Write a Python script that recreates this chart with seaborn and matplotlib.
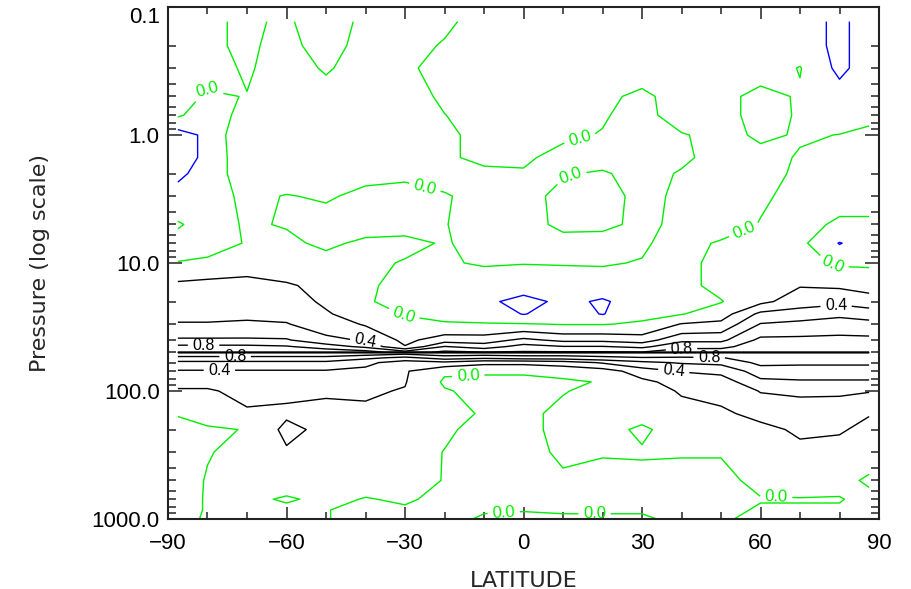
import numpy as np
import matplotlib
matplotlib.use("Agg")
import matplotlib.pyplot as plt
from matplotlib import font_manager
from matplotlib.ticker import MultipleLocator, LogLocator, NullFormatter
import seaborn as sns

# ---------------- data ----------------
latitudes = [-87.5, -80, -70, -60, -50, -40, -30, -20, -10, 0, 10, 20, 30, 40, 50, 60, 70, 80, 87.5]

upper_pressures = [0.13, 0.2, 0.3, 0.5, 0.7, 1, 1.5, 2, 3, 5, 7, 10]
# one row per upper pressure level, across latitudes
upper_rows = [
    [0.1, 0.025, -0.025, 0.025, -0.1, 0.045, 0.1, 0.05, -0.1, -0.1, -0.1, -0.1, -0.1, -0.1, -0.1, -0.1, -0.1, -0.25, -0.1],
    [0.1, 0.05, -0.05, 0.1, -0.15, 0.135, 0.1, -0.025, -0.1, -0.1, -0.1, -0.1, -0.1, -0.1, -0.1, -0.1, -0.1, -0.25, -0.1],
    [0.1, 0.075, -0.025, 0.1, -0.025, 0.1, 0.05, -0.1, -0.1, -0.1, -0.1, -0.1, -0.1, -0.1, -0.1, -0.1, 0.01, -0.25, -0.1],
    [0.075, -0.0275, 0.007, 0.1, 0.1, 0.1, 0.1, -0.04, -0.1, -0.1, -0.1, -0.05, 0.05, -0.1, -0.075, 0.075, -0.025, -0.1, -0.1],
    [0.025, -0.1, 0.065, 0.1, 0.1, 0.1, 0.1, 0.005, -0.1, -0.1, -0.1, -0.025, 0.1, -0.15, -0.075, 0.075, -0.02, -0.1, -0.05],
    [-0.3, -0.15, 0.175, 0.1, 0.1, 0.1, 0.1, 0.05, -0.075, -0.1, -0.05, 0.015, 0.1, 0.025, -0.1, 0.05, -0.025, 0.005, 0.05],
    [-0.3, -0.15, 0.15, 0.1, 0.1, 0.1, 0.1, 0.05, -0.075, -0.05, 0.1, 0.1, 0.1, 0.05, -0.1, -0.1, 0.025, 0.025, 0.05],
    [-0.225, -0.15, 0.15, 0.1, 0.1, 0.05, 0.05, 0.1, 0.075, 0.03, 0.02, -0.03, 0.1, -0.025, -0.1, -0.05, 0.025, 0.05, 0.075],
    [-0.15, -0.1, 0.05, -0.01, 0.025, -0.05, -0.1, -0.025, 0.1, 0.125, -0.1, -0.1, 0.075, -0.05, -0.1, -0.025, 0.05, 0.05, 0.05],
    [0.025, -0.1, 0.025, -0.015, -0.1, -0.1, -0.1, -0.01, 0.1, 0.125, -0.075, -0.05, 0.05, -0.05, -0.1, 0.01, 0.05, -0.025, -0.025],
    [-0.1, -0.1, 0.015, 0.05, -0.05, 0.05, 0.075, -0.025, 0.1, 0.125, 0.125, 0.1, 0.025, -0.075, 0.025, 0.1, 0.05, -0.21, -0.1],
    [0.01, 0.05, 0.075, 0.1, 0.1, 0.075, -0.025, -0.015, 0.015, 0.005, 0.01, 0.015, -0.01, -0.05, 0.05, 0.1, 0.075, -0.025, -0.025],
]

lower_pressures = [15, 20, 25, 30, 40, 45, 49.8, 50, 50.2, 55, 60, 70, 85, 100, 150, 200, 300, 500, 700, 850, 1000]
# one profile per latitude (same order as `latitudes`), across lower pressure levels
lower_columns = [
    [0.25, 0.3, 0.36, 0.41, 0.63, 0.85, 0.95, 1.25, 0.95, 0.75, 0.55, 0.38, 0.25, 0.18, 0.01, -0.05, -0.075, -0.1, -0.075, -0.05, -0.04],
    [0.27, 0.3, 0.36, 0.41, 0.63, 0.85, 0.95, 1.25, 0.95, 0.75, 0.55, 0.38, 0.25, 0.18, 0.15, -0.05, -0.01, 0.015, 0.015, 0.01, 0.015],
    [0.3, 0.32, 0.37, 0.42, 0.63, 0.85, 0.95, 1.25, 0.95, 0.75, 0.55, 0.38, 0.28, 0.25, 0.175, 0.015, 0.05, 0.1, 0.05, 0.05, 0.05],
    [0.22, 0.28, 0.35, 0.41, 0.62, 0.82, 0.95, 1.25, 0.95, 0.75, 0.55, 0.38, 0.28, 0.23, 0.17, 0.25, 0.175, 0.1, -0.025, 0.05, 0.05],
    [0.15, 0.17, 0.22, 0.3, 0.45, 0.7, 0.95, 1.25, 0.95, 0.75, 0.55, 0.38, 0.25, 0.22, 0.15, 0.15, 0.12, 0.1, 0.05, 0.01, 0.01],
    [0.025, 0.015, 0.1, 0.18, 0.38, 0.55, 0.9, 1.25, 0.95, 0.65, 0.45, 0.35, 0.27, 0.22, 0.17, 0.12, 0.1, 0.075, -0.01, -0.075, -0.075],
    [-0.05, -0.05, -0.01, 0.05, 0.15, 0.21, 0.7, 1.25, 0.9, 0.55, 0.3, 0.22, 0.21, 0.19, 0.125, 0.1, 0.075, 0.05, 0.025, -0.025, -0.05],
    [-0.075, -0.15, -0.075, 0.025, 0.3, 0.61, 0.85, 1.25, 0.95, 0.7, 0.35, 0.025, -0.025, 0.015, 0.05, 0.025, -0.005, -0.005, -0.05, -0.075, -0.075],
    [-0.1, -0.15, -0.075, 0.01, 0.3, 0.5, 0.81, 1.25, 0.95, 0.65, 0.25, 0.025, -0.05, -0.05, -0.015, -0.05, -0.05, -0.05, -0.075, -0.02, 0.03],
    [-0.1, -0.275, -0.21, 0.01, 0.45, 0.68, 0.82, 1.25, 0.95, 0.7, 0.25, 0.025, -0.05, -0.075, -0.05, -0.05, -0.05, -0.05, -0.075, -0.01, 0.05],
    [-0.1, -0.15, -0.1, -0.01, 0.35, 0.61, 0.82, 1.25, 0.95, 0.7, 0.3, 0.05, -0.025, -0.01, 0.05, 0.05, 0.025, -0.025, -0.05, -0.02, 0.03],
    [-0.1, -0.225, -0.21, -0.01, 0.35, 0.61, 0.82, 1.25, 0.95, 0.75, 0.42, 0.1, 0.01, 0.05, 0.075, 0.05, 0.01, -0.05, -0.05, -0.02, 0.03],
    [-0.1, -0.1, -0.05, 0.025, 0.3, 0.55, 0.81, 1.25, 0.95, 0.79, 0.55, 0.3, 0.15, 0.1, 0.05, -0.025, 0.015, -0.05, -0.05, -0.02, 0.03],
    [-0.05, -0.05, -0.01, 0.21, 0.55, 0.75, 0.9, 1.25, 0.95, 0.78, 0.62, 0.41, 0.28, 0.22, 0.12, 0.07, 0.01, -0.05, -0.025, -0.05, -0.05],
    [0.05, -0.01, 0.1, 0.25, 0.55, 0.75, 0.9, 1.25, 0.95, 0.79, 0.65, 0.45, 0.3, 0.25, 0.17, 0.1, 0.01, -0.05, -0.025, -0.05, -0.025],
    [0.1, 0.15, 0.45, 0.61, 0.85, 0.9, 0.95, 1.25, 0.95, 0.9, 0.85, 0.7, 0.55, 0.41, 0.25, 0.15, 0.07, 0.05, -0.01, 0.02, 0.05],
    [0.19, 0.3, 0.5, 0.65, 0.85, 0.92, 0.95, 1.25, 0.95, 0.9, 0.83, 0.72, 0.57, 0.43, 0.3, 0.23, 0.15, 0.1, -0.01, 0.02, 0.05],
    [0.17, 0.35, 0.55, 0.7, 0.85, 0.92, 0.95, 1.25, 0.95, 0.9, 0.83, 0.72, 0.57, 0.43, 0.28, 0.22, 0.12, 0.05, -0.01, 0.02, 0.05],
    [0.12, 0.3, 0.5, 0.67, 0.85, 0.92, 0.95, 1.25, 0.95, 0.9, 0.83, 0.72, 0.57, 0.41, 0.21, 0.15, 0.07, -0.025, 0.05, 0.05, 0.05],
]

negative_levels = [-0.2]
zero_level = [0.0]
positive_levels = [0.2, 0.6, 1.0, 1.2]
labelled_positive = [0.4, 0.8]
y_ticks = [0.1, 1.0, 10.0, 100.0, 1000.0]
y_ticklabels = ["0.1", "1.0", "10.0", "100.0", "1000.0"]
x_ticks = [-90, -60, -30, 0, 30, 60, 90]
x_label = "LATITUDE"
y_label = "Pressure (log scale)"

# where the contour labels sit (layout hints, as in the reference)
zero_label_spots = [(-81, 0.4), (14, 1.0), (12, 2.1), (-25, 2.6), (56, 5.7), (78, 11),
                    (-31, 28), (-14, 74), (-5, 900), (18, 900), (64, 620)]
label_spots = {0.4: [(-39, 33), (-77, 67), (38, 72), (79, 19)],
               0.8: [(-81, 43), (-73, 55), (40, 42), (47, 56)]}

# ---------------- styling ----------------
sns.set_style("white")
available = {f.name for f in font_manager.fontManager.ttflist}
tick_font = "Liberation Sans" if "Liberation Sans" in available else "DejaVu Sans"
plt.rcParams["font.family"] = ["DejaVu Sans"]

GREEN = "#00ee00"
BLUE = "#0000ff"
LW = 1.0

fig = plt.figure(figsize=(9.11, 5.89), dpi=100)
ax = fig.add_axes([168 / 911, 1 - 519 / 589, 711 / 911, 512 / 589])

lat = np.array(latitudes)
pres = np.array(upper_pressures + lower_pressures)
field = np.vstack([np.array(upper_rows), np.array(lower_columns).T])

ax.contour(lat, pres, field, levels=negative_levels, colors=BLUE,
           linewidths=LW, linestyles="solid")
ax.contour(lat, pres, field, levels=positive_levels, colors="black",
           linewidths=LW, linestyles="solid")
cs_zero = ax.contour(lat, pres, field, levels=zero_level, colors=GREEN,
                     linewidths=LW, linestyles="solid")
cs_lab = {lev: ax.contour(lat, pres, field, levels=[lev], colors="black",
                          linewidths=LW, linestyles="solid")
          for lev in labelled_positive}

ax.set_yscale("log")
ax.set_xlim(-90, 90)
ax.set_ylim(1000, 0.1)

all_labels = list(ax.clabel(cs_zero, fmt="%.1f", fontsize=12, inline=True,
                            inline_spacing=3, manual=zero_label_spots))
for lev, cs in cs_lab.items():
    all_labels += ax.clabel(cs, fmt="%.1f", fontsize=11.5, inline=True,
                            inline_spacing=3, manual=label_spots[lev])
for t in all_labels:
    t.set_fontfamily(tick_font)

ax.set_xticks(x_ticks)
ax.xaxis.set_minor_locator(MultipleLocator(10))
ax.set_yticks(y_ticks)
ax.set_yticklabels(y_ticklabels)
ax.yaxis.set_minor_locator(LogLocator(base=10, subs=range(2, 10), numticks=20))
ax.yaxis.set_minor_formatter(NullFormatter())

ax.tick_params(axis="both", which="both", direction="in", top=True, right=True,
               left=True, bottom=True, colors="#222222", width=1.1)
ax.tick_params(axis="x", which="major", length=8.5, pad=10, labelsize=16)
ax.tick_params(axis="x", which="minor", length=5)
ax.tick_params(axis="y", which="major", length=10, pad=6, labelsize=16)
ax.tick_params(axis="y", which="minor", length=5.5)
for t in ax.get_xticklabels() + ax.get_yticklabels():
    t.set_fontfamily(tick_font)
    t.set_color("black")
ax.get_yticklabels()[0].set_verticalalignment("top")

for s in ax.spines.values():
    s.set_linewidth(1.5)
    s.set_color("#222222")

ax.set_xlabel(x_label, fontsize=16, labelpad=12)
ax.set_ylabel(y_label, fontsize=16, labelpad=30)

fig.savefig("out.png", dpi=100, facecolor="white")
